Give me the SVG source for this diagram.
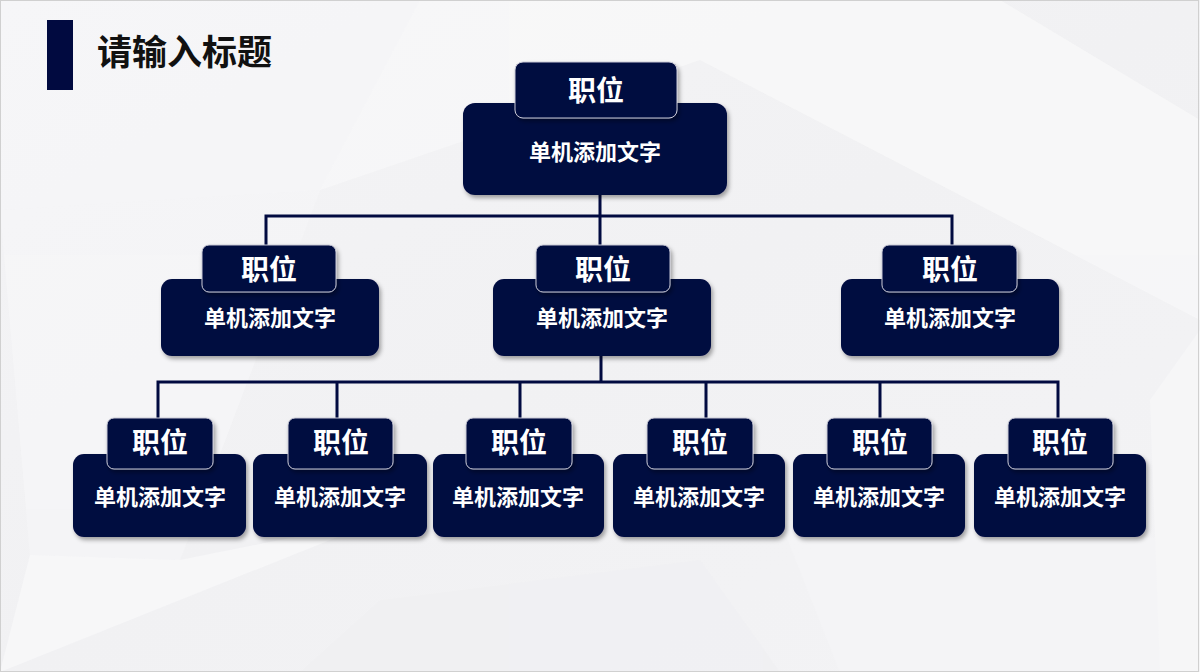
<svg xmlns="http://www.w3.org/2000/svg" width="1200" height="672" viewBox="0 0 1200 672">
<defs>
<linearGradient id="bg" x1="0" y1="0" x2="1" y2="1">
<stop offset="0" stop-color="#f4f4f6"/>
<stop offset="0.5" stop-color="#f1f1f3"/>
<stop offset="1" stop-color="#f3f3f5"/>
</linearGradient>
<filter id="sh" x="-10%" y="-10%" width="125%" height="135%">
<feDropShadow dx="2" dy="3" stdDeviation="2.2" flood-color="#000" flood-opacity="0.35"/>
</filter>
<style>
.box{fill:#010a40;filter:url(#sh)}
.lab{fill:#010a40;stroke:#c9cad6;stroke-width:1;filter:url(#sh)}
.t1{font-family:"Noto Sans CJK SC","Noto Sans CJK JP",sans-serif;font-weight:700;font-size:28px;fill:#fff;text-anchor:middle;dominant-baseline:central}
.t2{font-family:"Noto Sans CJK SC","Noto Sans CJK JP",sans-serif;font-weight:700;font-size:22px;fill:#fff;text-anchor:middle;dominant-baseline:central}
.ln{fill:none;stroke:#010a40;stroke-width:3}
</style>
</defs>
<rect x="0" y="0" width="1200" height="672" fill="url(#bg)"/>
<g opacity="0.7">
<polygon points="0,0 420,0 320,190 0,210" fill="#f7f7f9"/>
<polygon points="320,190 420,0 1000,0 1200,120 1200,320 700,60" fill="#f9f9fa"/>
<polygon points="0,210 320,190 180,560 30,555" fill="#f6f6f8"/>
<polygon points="30,555 180,560 380,520 0,672" fill="#fafafb"/>
<polygon points="780,520 1200,540 1200,672 840,672" fill="#f5f5f7"/>
<polygon points="380,600 700,560 780,672 300,672" fill="#f0f0f2"/>
<polygon points="1150,400 1200,330 1200,672 1160,672" fill="#f8f8f9"/>
</g>
<rect x="0.5" y="0.5" width="1198" height="671" fill="none" stroke="#d0d0d0" stroke-width="1"/>

<g id="title">
<rect x="47" y="20" width="26" height="70" fill="#010a40"/>
<text x="97" y="49" font-family="'Noto Sans CJK SC','Noto Sans CJK JP',sans-serif" font-weight="700" font-size="35" fill="#111" dominant-baseline="central">请输入标题</text>
</g>

<g id="connectors">
<path class="ln" d="M600,195 V216 M266,246 V216 H952 V246 M600,216 V246"/>
<path class="ln" d="M601,356 V382 M158,418 V382 H1058 V418 M337,382 V418 M520,382 V418 M706,382 V418 M880,382 V418"/>
</g>

<g id="n0">
<rect class="box" x="463" y="103" width="264" height="92" rx="12"/>
<rect class="lab" x="515" y="62" width="162" height="56" rx="8"/>
<text class="t1" x="596" y="89" font-size="30">职位</text>
<text class="t2" x="595" y="150">单机添加文字</text>
</g>

<g id="n1">
<rect class="box" x="161" y="279" width="218" height="77" rx="11"/>
<rect class="lab" x="202" y="245" width="134" height="47" rx="7"/>
<text class="t1" x="269" y="268">职位</text>
<text class="t2" x="270" y="316">单机添加文字</text>
</g>
<g id="n2">
<rect class="box" x="493" y="279" width="218" height="77" rx="11"/>
<rect class="lab" x="536" y="245" width="134" height="47" rx="7"/>
<text class="t1" x="603" y="268">职位</text>
<text class="t2" x="602" y="316">单机添加文字</text>
</g>
<g id="n3">
<rect class="box" x="841" y="279" width="218" height="77" rx="11"/>
<rect class="lab" x="882" y="245" width="135" height="47" rx="7"/>
<text class="t1" x="950" y="268">职位</text>
<text class="t2" x="950" y="316">单机添加文字</text>
</g>

<g id="n4">
<rect class="box" x="73" y="454" width="173" height="83" rx="11"/>
<rect class="lab" x="107" y="418" width="106" height="51" rx="7"/>
<text class="t1" x="160" y="441">职位</text>
<text class="t2" x="160" y="495">单机添加文字</text>
</g>
<g id="n5">
<rect class="box" x="253" y="454" width="174" height="83" rx="11"/>
<rect class="lab" x="288" y="418" width="105" height="51" rx="7"/>
<text class="t1" x="341" y="441">职位</text>
<text class="t2" x="340" y="495">单机添加文字</text>
</g>
<g id="n6">
<rect class="box" x="433" y="454" width="171" height="83" rx="11"/>
<rect class="lab" x="466" y="418" width="106" height="51" rx="7"/>
<text class="t1" x="519" y="441">职位</text>
<text class="t2" x="518" y="495">单机添加文字</text>
</g>
<g id="n7">
<rect class="box" x="613" y="454" width="172" height="83" rx="11"/>
<rect class="lab" x="647" y="418" width="106" height="51" rx="7"/>
<text class="t1" x="700" y="441">职位</text>
<text class="t2" x="699" y="495">单机添加文字</text>
</g>
<g id="n8">
<rect class="box" x="793" y="454" width="172" height="83" rx="11"/>
<rect class="lab" x="827" y="418" width="105" height="51" rx="7"/>
<text class="t1" x="880" y="441">职位</text>
<text class="t2" x="879" y="495">单机添加文字</text>
</g>
<g id="n9">
<rect class="box" x="974" y="454" width="172" height="83" rx="11"/>
<rect class="lab" x="1008" y="418" width="105" height="51" rx="7"/>
<text class="t1" x="1060" y="441">职位</text>
<text class="t2" x="1060" y="495">单机添加文字</text>
</g>
</svg>
